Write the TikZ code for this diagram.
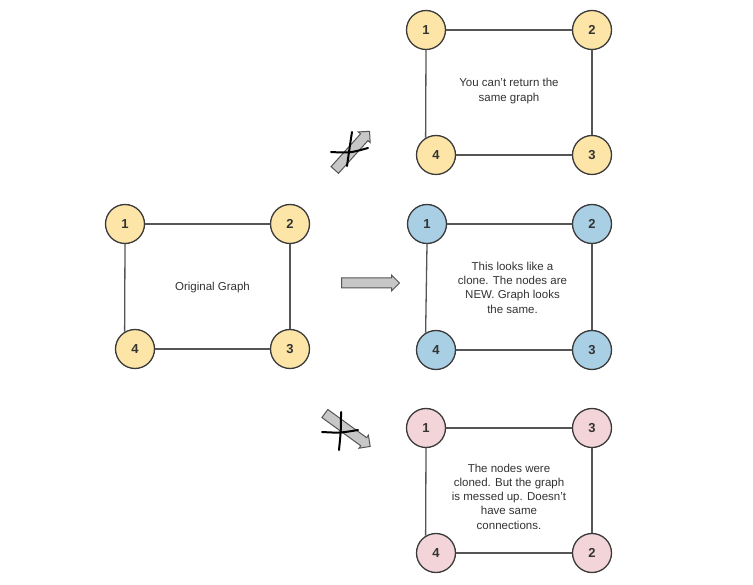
\documentclass[tikz,border=0pt]{standalone}
\usepackage{fontspec}
\setmainfont{Liberation Sans}
\usetikzlibrary{shapes.arrows}
\definecolor{yel}{HTML}{FCE5A7}
\definecolor{blu}{HTML}{A9CFE4}
\definecolor{pnk}{HTML}{F3D5D9}
\definecolor{edgec}{HTML}{555555}
\definecolor{bord}{HTML}{3A3A3A}
\definecolor{txt}{HTML}{333333}
\tikzset{
  gnode/.style={circle, draw=bord, line width=1.3pt, minimum size=39pt, inner sep=0pt,
    font=\fontsize{13}{14}\selectfont\bfseries, text=txt},
  ynode/.style={gnode, fill=yel},
  bnode/.style={gnode, fill=blu},
  pnode/.style={gnode, fill=pnk},
  gedge/.style={draw=edgec, line width=1.3pt},
  caption/.style={align=center, font=\fontsize{11.5}{14.3}\selectfont, text=txt},
  blockarrow/.style={single arrow, draw=edgec, fill=black!22, line width=1pt,
    minimum width=15pt, inner sep=4.5pt, single arrow head extend=3pt},
  xstroke/.style={draw=black, line width=2pt, line cap=round}
}
\begin{document}
\begin{tikzpicture}[x=1pt,y=-1pt]
\useasboundingbox (0,0) rectangle (753,585);
\fill[white] (0,0) rectangle (753,585);

% Original graph
\node[ynode] (o1) at (125,224) {1};
\node[ynode] (o2) at (290,224) {2};
\node[ynode] (o4) at (135,349) {4};
\node[ynode] (o3) at (290,349) {3};
\draw[gedge] (o1) -- (o2);
\draw[gedge] (o2) -- (o3);
\draw[gedge] (o4) -- (o3);
\draw[gedge] (o1.south) -- (o4.121);
\node[caption] (ot) at (212.5,288) {Original Graph};

% Top graph
\node[ynode] (t1) at (426,30) {1};
\node[ynode] (t2) at (592,30) {2};
\node[ynode] (t4) at (436,155) {4};
\node[ynode] (t3) at (592,155) {3};
\draw[gedge] (t1) -- (t2);
\draw[gedge] (t2) -- (t3);
\draw[gedge] (t4) -- (t3);
\draw[gedge] (t1.south) -- (t4.121);
\node[caption] (tt) at (509,91) {You can't return the\\same graph};

% Middle graph
\node[bnode] (m1) at (427,224) {1};
\node[bnode] (m2) at (592,224) {2};
\node[bnode] (m4) at (436,350) {4};
\node[bnode] (m3) at (592,350) {3};
\draw[gedge] (m1) -- (m2);
\draw[gedge] (m2) -- (m3);
\draw[gedge] (m4) -- (m3);
\draw[gedge] (m1.south) -- (m4.121);
\node[caption] (mt) at (512.5,287.5) {This looks like a\\clone. The nodes are\\NEW. Graph looks\\the same.};

% Bottom graph
\node[pnode] (b1) at (426,428) {1};
\node[pnode] (b3) at (592,428) {3};
\node[pnode] (b4) at (436,553) {4};
\node[pnode] (b2) at (592,553) {2};
\draw[gedge] (b1) -- (b3);
\draw[gedge] (b3) -- (b2);
\draw[gedge] (b4) -- (b2);
\draw[gedge] (b1.south) -- (b4.121);
\node[caption] (bt) at (509,496.5) {The nodes were\\cloned. But the graph\\is messed up. Doesn't\\have same\\connections.};

% Arrows
\node[blockarrow, minimum height=58pt] (am) at (368,283) {};
\node[blockarrow, minimum height=52pt, rotate=48] (at) at (350.5,152.5) {};
\node[blockarrow, minimum height=56pt, rotate=-36] (ab) at (345.5,428.5) {};

% Crosses
\coordinate (tx1) at (352,132);
\coordinate (tx2) at (347,166);
\coordinate (ty1) at (331,152);
\coordinate (ty2) at (368,148);
\draw[xstroke] (tx1) .. controls (350,145) .. (tx2);
\draw[xstroke] (ty1) .. controls (350,153) .. (ty2);
\coordinate (bx1) at (341,412);
\coordinate (bx2) at (339,450);
\coordinate (by1) at (322,432);
\coordinate (by2) at (358,430);
\draw[xstroke] (bx1) .. controls (341,430) .. (bx2);
\draw[xstroke] (by1) .. controls (340,433) .. (by2);
\end{tikzpicture}
\end{document}
